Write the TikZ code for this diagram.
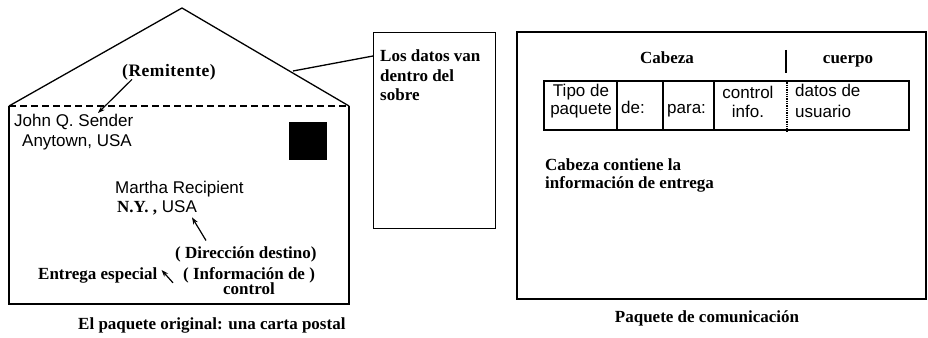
\documentclass[tikz,border=0pt]{standalone}
\usepackage{fontspec}
\setmainfont{Liberation Serif}
\setsansfont{Liberation Sans}
\usetikzlibrary{calc,arrows.meta}
\begin{document}
\begin{tikzpicture}[x=1pt,y=-1pt,
  ser/.style={font=\bfseries\fontsize{17}{19.5}\selectfont, inner sep=0pt, align=left},
  san/.style={font=\sffamily\fontsize{17}{19}\selectfont, inner sep=0pt, align=left},
  ln/.style={line width=1.3pt},
  thk/.style={line width=2.4pt},
  arr/.style={line width=1.2pt, -{Stealth[length=7pt,width=5pt]}},
]
\useasboundingbox (0,0) rectangle (928,337);

% ---------- envelope ----------
\coordinate (envL) at (9,106);
\coordinate (envR) at (349,106);
\coordinate (apex) at (182,8);
\coordinate (roofpt) at (293,71);
\draw[ln, line join=round] (envL) -- (apex) -- (envR);
\draw[ln] (envL) -- (9,304) -- (349,304) -- (envR);
\draw[ln, dash pattern=on 7pt off 4pt] (envL) -- (envR);
\fill (289,122) rectangle (327,160);

\node[ser, anchor=base, font=\bfseries\fontsize{17.5}{19.5}\selectfont\addfontfeature{LetterSpace=3}] (rem) at (169,76.5) {(Remitente)};
\node[san, anchor=base west] (john) at (14,126.5) {John Q. Sender};
\node[san, anchor=base west] (anyt) at (22,146.5) {Anytown, USA};
\node[san, anchor=base west] (martha) at (115,193.5) {Martha Recipient};
\node[san, anchor=base west] (ny) at (117,212.5) {{\rmfamily\bfseries N.Y. ,} USA};
\node[ser, anchor=base west] (dir) at (175,258.5) {( Dirección destino)};
\node[ser, anchor=base west] (entrega) at (38,279) {Entrega especial};
\node[ser, anchor=base west] (info) at (183,279) {( Información de )};
\node[ser, anchor=base] (ctrl) at (249,294.5) {control};

\coordinate (remtip) at (98,113);
\draw[arr] ($(rem.south west)+(10,-1)$) -- (remtip);
\draw[arr] ($(dir.north west)+(31,-6)$) -- ($(ny.south west)+(75,2)$);
\draw[arr] ($(info.west)+(-10,8)$) -- ($(entrega.east)+(4,-5)$);

\node[ser, anchor=base west] (cap1) at (78,329.5) {El paquete original: una carta postal};

% ---------- data box ----------
\node[draw, ln, anchor=north west, minimum width=122pt, minimum height=196pt, inner sep=0pt] (databox) at (373,32) {};
\node[ser, anchor=north west] (datatxt) at (380,50) {Los datos van\\dentro del\\sobre};
\draw[ln] (roofpt) -- ($(databox.north west)+(0,24)$);

% ---------- communication packet ----------
\node[draw, thk, anchor=north west, minimum width=409pt, minimum height=267pt, inner sep=0pt] (pkt) at (516,31) {};
\node[ser, anchor=base] (cabeza) at (667,63.5) {Cabeza};
\node[ser, anchor=base] (cuerpo) at (848,63.5) {cuerpo};

\node[draw, line width=2pt, anchor=north west, minimum width=365pt, minimum height=49pt, inner sep=0pt] (tbl) at (543,80) {};
\draw[line width=1.2pt] ($(tbl.north west)+(243,-30)$) -- ($(tbl.north west)+(243,-7)$);
\draw[line width=1.5pt] ($(tbl.north west)+(74,0)$) -- ($(tbl.south west)+(74,0)$);
\draw[line width=1.5pt] ($(tbl.north west)+(120,0)$) -- ($(tbl.south west)+(120,0)$);
\draw[line width=1.5pt] ($(tbl.north west)+(171,0)$) -- ($(tbl.south west)+(171,0)$);
\draw[line width=1.3pt, densely dotted] ($(tbl.north west)+(244,0)$) -- ($(tbl.south west)+(244,0)$);

\node[san, anchor=north, align=center, font=\sffamily\fontsize{17}{18}\selectfont] (tipo) at (581,84) {Tipo de\\paquete};
\node[san, anchor=base west] (de) at (621,113.5) {de:};
\node[san, anchor=base west] (para) at (667,113.5) {para:};
\node[san, anchor=north, align=center] (cinfo) at (748,86) {control\\info.};
\node[san, anchor=north west, font=\sffamily\fontsize{17}{21}\selectfont] (datos) at (795,84) {datos de\\usuario};

\node[ser, anchor=north west, font=\bfseries\fontsize{17}{18}\selectfont] (cabtxt) at (545,159) {Cabeza contiene la\\información de entrega};

\node[ser, anchor=base] (cap2) at (707,322.5) {Paquete de comunicación};
\end{tikzpicture}
\end{document}
